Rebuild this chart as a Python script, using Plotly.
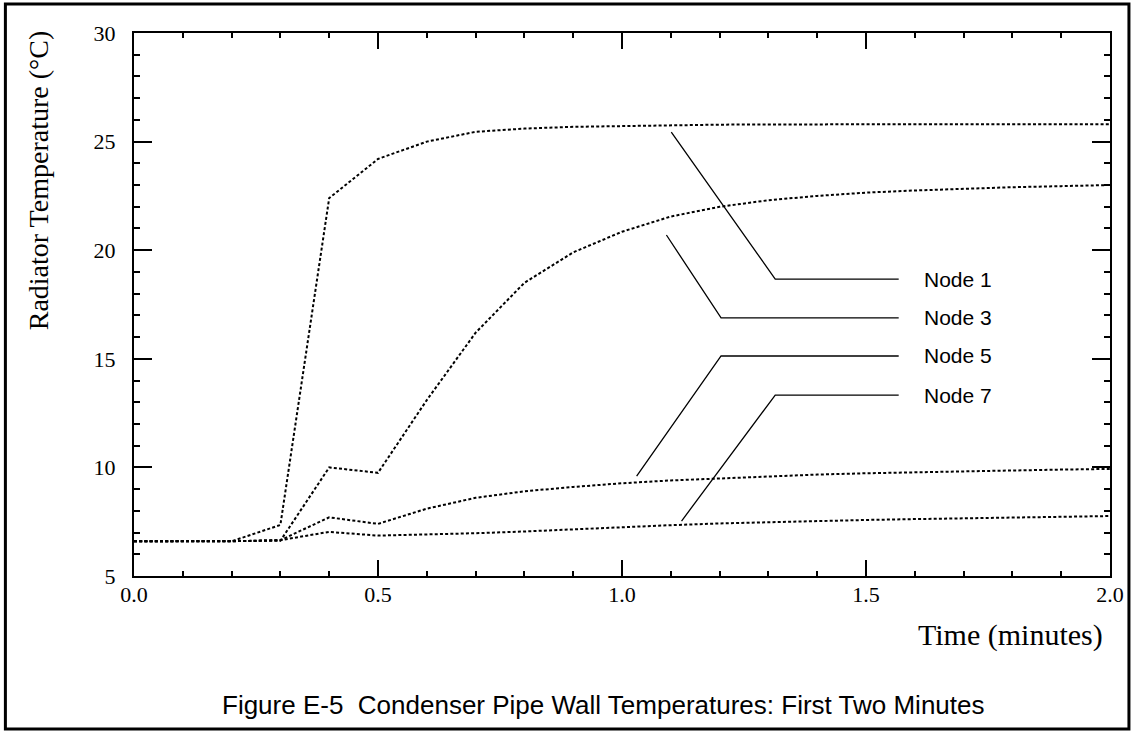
import plotly.graph_objects as go

# Time axis (minutes) shared by every node series
time_min = [0.0, 0.1, 0.2, 0.3, 0.4, 0.5, 0.6, 0.7, 0.8, 0.9, 1.0,
            1.1, 1.2, 1.3, 1.4, 1.5, 1.6, 1.7, 1.8, 1.9, 2.0]

# Pipe wall temperatures (deg C) for each condenser node
node1 = [6.6, 6.6, 6.6, 7.35, 22.4, 24.2, 25.0, 25.45, 25.6, 25.68, 25.72,
         25.76, 25.78, 25.79, 25.8, 25.8, 25.8, 25.8, 25.8, 25.8, 25.8]
node3 = [6.6, 6.6, 6.6, 6.62, 10.0, 9.75, 13.1, 16.2, 18.5, 19.9, 20.85,
         21.55, 22.0, 22.3, 22.5, 22.65, 22.75, 22.83, 22.9, 22.95, 23.0]
node5 = [6.6, 6.6, 6.6, 6.65, 7.7, 7.4, 8.1, 8.6, 8.9, 9.1, 9.27,
         9.4, 9.5, 9.6, 9.67, 9.73, 9.78, 9.83, 9.87, 9.9, 9.93]
node7 = [6.6, 6.6, 6.6, 6.65, 7.03, 6.86, 6.9, 6.97, 7.05, 7.15, 7.26,
         7.34, 7.42, 7.48, 7.53, 7.58, 7.62, 7.66, 7.7, 7.73, 7.76]

series = [node1, node3, node5, node7]
node_names = ["Node 1", "Node 3", "Node 5", "Node 7"]

# Leader lines: (start on curve) -> elbow -> end next to the label
leaders = [
    [(1.101, 25.44), (1.314, 18.67), (1.567, 18.67)],
    [(1.091, 20.70), (1.203, 16.88), (1.567, 16.88)],
    [(1.030, 9.60), (1.203, 15.13), (1.567, 15.13)],
    [(1.122, 7.53), (1.314, 13.33), (1.567, 13.33)],
]
label_x = 1.614

fig = go.Figure()

for name, ys in zip(node_names, series):
    fig.add_trace(go.Scatter(
        x=time_min, y=ys, mode="lines", name=name,
        line=dict(color="black", width=2, dash="3px,2.2px"),
        showlegend=False, hoverinfo="skip",
    ))

for name, pts in zip(node_names, leaders):
    fig.add_trace(go.Scatter(
        x=[p[0] for p in pts], y=[p[1] for p in pts], mode="lines",
        line=dict(color="black", width=1.3),
        showlegend=False, hoverinfo="skip",
    ))

annotations = []
for name, pts in zip(node_names, leaders):
    annotations.append(dict(
        x=label_x, y=pts[-1][1], xref="x", yref="y", text=name,
        showarrow=False, xanchor="left", yanchor="middle",
        font=dict(family="Liberation Sans, Arial, sans-serif", size=21, color="black"),
    ))

W, H = 1136, 731
L, R, T, B = 134, 23, 33, 155
pw, ph = W - L - R, H - T - B


def px_x(p):
    return (p - L) / pw


def px_y(p):
    return (H - B - p) / ph


annotations += [
    dict(text="Radiator Temperature (°C)", textangle=-90,
         x=px_x(38), y=px_y(180), xref="paper", yref="paper",
         showarrow=False, xanchor="center", yanchor="middle",
         font=dict(family="Liberation Serif, Times New Roman, serif", size=28, color="black")),
    dict(text="Time (minutes)",
         x=px_x(1108), y=px_y(635), xref="paper", yref="paper",
         showarrow=False, xanchor="right", yanchor="middle",
         font=dict(family="Liberation Serif, Times New Roman, serif", size=30, color="black")),
    dict(text="Figure E-5  Condenser Pipe Wall Temperatures: First Two Minutes",
         x=px_x(605), y=px_y(705), xref="paper", yref="paper",
         showarrow=False, xanchor="center", yanchor="middle",
         font=dict(family="Liberation Sans, Arial, sans-serif", size=26, color="black")),
]

tick_font = dict(family="Liberation Serif, Times New Roman, serif", size=22, color="black")

fig.update_layout(
    width=W, height=H,
    margin=dict(l=L, r=R, t=T, b=B, pad=0),
    paper_bgcolor="white", plot_bgcolor="white",
    annotations=annotations,
    shapes=[dict(type="rect", xref="paper", yref="paper",
                 x0=px_x(5), x1=px_x(1132), y0=px_y(729), y1=px_y(4),
                 line=dict(color="black", width=3), fillcolor="rgba(0,0,0,0)",
                 layer="below")],
    xaxis=dict(
        range=[0, 2], dtick=0.5, tick0=0, tickformat=".1f",
        showgrid=False, zeroline=False,
        showline=True, linecolor="black", linewidth=2, mirror="ticks",
        ticks="inside", ticklen=16, tickwidth=1.5, tickcolor="black",
        tickfont=tick_font, ticklabelstandoff=-2,
        minor=dict(dtick=0.1, ticks="inside", ticklen=5, tickwidth=1.5,
                   tickcolor="black", showgrid=False),
    ),
    yaxis=dict(
        range=[5, 30], dtick=5, tick0=5,
        showgrid=False, zeroline=False,
        showline=True, linecolor="black", linewidth=2, mirror="ticks",
        ticks="inside", ticklen=18, tickwidth=1.5, tickcolor="black",
        tickfont=tick_font, ticklabelstandoff=12,
        minor=dict(dtick=1, ticks="inside", ticklen=6, tickwidth=1.5,
                   tickcolor="black", showgrid=False),
    ),
)

fig.write_html("out.html")
